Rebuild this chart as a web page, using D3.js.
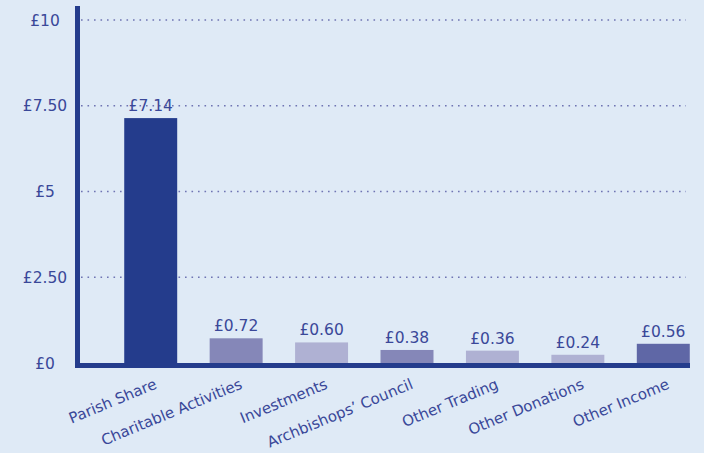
<!DOCTYPE html>
<html><head><meta charset="utf-8">
<script src="https://cdn.jsdelivr.net/npm/d3@7"></script>
<style>
html,body{margin:0;padding:0;background:#dfeaf6;}
svg{display:block;font-family:"DejaVu Sans",Verdana,sans-serif;}
</style></head>
<body>
<svg id="c" width="704" height="453"></svg>
<script>
const categories = ["Parish Share","Charitable Activities","Investments","Archbishops\u2019 Council","Other Trading","Other Donations","Other Income"];
const values = [7.14, 0.72, 0.60, 0.38, 0.36, 0.24, 0.56];
const valueLabels = ["£7.14","£0.72","£0.60","£0.38","£0.36","£0.24","£0.56"];
const barColors = ["#243c8c","#8587b8","#afb1d3","#8587b8","#afb1d3","#afb1d3","#5f67a6"];
const yTicks = [0, 2.5, 5, 7.5, 10];
const yTickLabels = ["£0","£2.50","£5","£7.50","£10"];

const svg = d3.select("#c");
const textColor = "#3a4899";
const axisColor = "#243c8c";

const y = d3.scaleLinear().domain([0,10]).range([363,20]);
const x = d3.scaleBand().domain(categories).range([108,706]).paddingInner(0.38).paddingOuter(0.19);

// gridlines
svg.append("g").selectAll("line").data(yTicks.filter(d=>d>0)).join("line")
  .attr("x1",81).attr("x2",686)
  .attr("y1",d=>y(d)).attr("y2",d=>y(d))
  .attr("stroke","#6f74b3").attr("stroke-width",1.6)
  .attr("stroke-dasharray","1.6,4.9");

// y tick labels
svg.append("g").selectAll("text").data(yTicks).join("text")
  .attr("x",45).attr("y",d=>y(d)).attr("dy","0.36em")
  .attr("text-anchor","middle").attr("fill",textColor)
  .attr("font-size",15.5).text((d,i)=>yTickLabels[i]);

// bars
svg.append("g").selectAll("rect").data(values).join("rect")
  .attr("x",(d,i)=>x(categories[i])).attr("width",x.bandwidth())
  .attr("y",d=>y(d)).attr("height",d=>y(0)-y(d))
  .attr("fill",(d,i)=>barColors[i]);

// value labels
svg.append("g").selectAll("text").data(values).join("text")
  .attr("x",(d,i)=>x(categories[i])+x.bandwidth()/2)
  .attr("y",d=>y(d)-7)
  .attr("text-anchor","middle").attr("fill",textColor)
  .attr("font-size",15.5).text((d,i)=>valueLabels[i]);

// axes lines
svg.append("line").attr("x1",77.5).attr("x2",77.5).attr("y1",6).attr("y2",368)
  .attr("stroke",axisColor).attr("stroke-width",5);
svg.append("line").attr("x1",75).attr("x2",690).attr("y1",365.5).attr("y2",365.5)
  .attr("stroke",axisColor).attr("stroke-width",5);

// x labels
svg.append("g").selectAll("text").data(categories).join("text")
  .attr("transform",d=>`translate(${x(d)+x.bandwidth()/2+7},${388}) rotate(-22.5)`)
  .attr("text-anchor","end").attr("fill",textColor)
  .attr("font-size",15).text(d=>d);
</script>
</body></html>
